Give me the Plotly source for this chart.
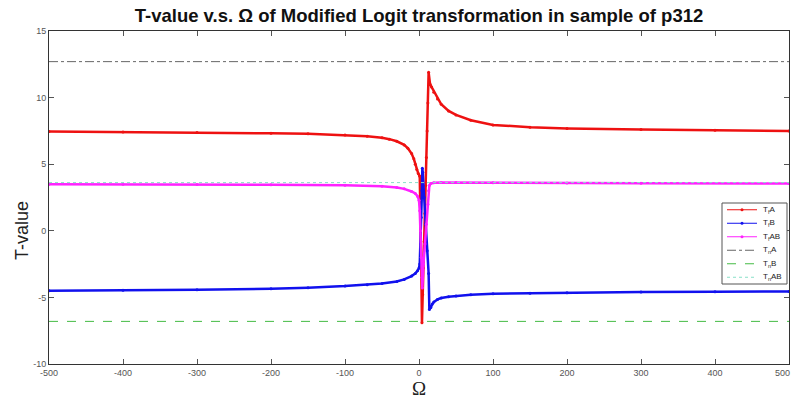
import plotly.graph_objects as go

# ---- data ----
omega_fA = [-500, -400, -300, -200, -150, -100, -70, -50, -40, -30, -20, -15, -10, -7, -5, -3, -1, 1,
            2, 3, 4, 5, 6, 7, 8, 9, 10, 11, 12, 13, 15, 17, 20, 25, 30, 40, 50, 70, 100, 150, 200, 300, 400, 500]
t_fA = [7.45, 7.42, 7.38, 7.32, 7.28, 7.2, 7.1, 6.98, 6.88, 6.72, 6.45, 6.2, 5.8, 5.4, 5.0, 4.6, 4.3, 4.1,
        1.5, -2.5, -6.9, -4.8, -2.8, -0.8, 1.3, 3.4, 5.5, 7.5, 9.6, 11.9, 11.0, 10.8, 10.4, 9.9, 9.5, 9.0, 8.7, 8.3, 7.95, 7.78, 7.68, 7.6, 7.55, 7.5]

omega_fB = [-500, -400, -300, -200, -150, -100, -70, -50, -30, -20, -10, -5, -2, 0, 1, 2, 3, 4, 4.5,
            5, 7, 9, 11, 13, 14, 16, 18, 20, 25, 30, 40, 50, 70, 100, 150, 200, 300, 400, 500]
t_fB = [-4.5, -4.47, -4.43, -4.35, -4.28, -4.15, -4.05, -3.95, -3.8, -3.65, -3.4, -3.2, -3.0, -2.8, -2.5, -1.0, 1.0, 3.0, 4.7,
        4.4, 2.5, 0.5, -1.5, -3.2, -5.9, -5.75, -5.5, -5.35, -5.15, -5.05, -4.95, -4.9, -4.8, -4.72, -4.68, -4.65, -4.6, -4.58, -4.55]

omega_fAB = [-500, -400, -300, -200, -100, -50, -30, -20, -10, -5, -2, 0, 1, 2, 3, 4, 4.5,
             6, 8, 10, 12, 13, 14, 16, 20, 30, 50, 100, 200, 300, 500]
t_fAB = [3.5, 3.5, 3.48, 3.46, 3.42, 3.35, 3.25, 3.15, 2.95, 2.8, 2.6, 2.3, 1.5, 0.0, -2.0, -3.5, -4.3,
         -2.5, -1.0, 0.5, 2.0, 3.0, 3.4, 3.55, 3.6, 3.62, 3.62, 3.6, 3.58, 3.57, 3.55]

omega_n = [-500, 500]
t_nA = [12.7, 12.7]
t_nB = [-6.8, -6.8]
t_nAB = [3.62, 3.62]

x_ticks = [-500, -400, -300, -200, -100, 0, 100, 200, 300, 400, 500]
x_ticktext = ["-500", "-400", "-300", "-200", "-100", "0", "100", "200", "300", "400", "500"]
y_ticks = [-10, -5, 0, 5, 10, 15]
y_ticktext = ["-10", "-5", "0", "5", "10", "15"]

legend_names = ["T<sub>f</sub>A", "T<sub>f</sub>B", "T<sub>f</sub>AB", "T<sub>n</sub>A", "T<sub>n</sub>B", "T<sub>n</sub>AB"]

# styles
RED, BLUE, MAG = "#ee1111", "#1111ee", "#ff22ff"
styles = [
    dict(color=RED, width=2.5, dash="solid", marker=True),
    dict(color=BLUE, width=2.5, dash="solid", marker=True),
    dict(color=MAG, width=2.5, dash="solid", marker=True),
    dict(color="#666666", width=1, dash="dashdot", marker=False),
    dict(color="#44bb44", width=1, dash="dash", marker=False),
    dict(color="#88e0c8", width=1, dash="dot", marker=False),
]

fig = go.Figure()
series = [(omega_fA, t_fA), (omega_fB, t_fB), (omega_fAB, t_fAB),
          (omega_n, t_nA), (omega_n, t_nB), (omega_n, t_nAB)]
for (xs, ys), st, nm in zip(series, styles, legend_names):
    fig.add_trace(go.Scatter(
        x=xs, y=ys, name=nm, showlegend=False,
        mode="lines+markers" if st["marker"] else "lines",
        line=dict(color=st["color"], width=st["width"], dash=st["dash"]),
        marker=dict(size=3, color=st["color"])))

# ---- custom legend (pixel layout converted to paper coords) ----
L, R, T, B = 49, 789, 31, 364
def px(xp):
    return (xp - L) / (R - L)
def py(yp):
    return (B - yp) / (B - T)

shapes = []
annotations = []
box_l, box_r, box_t, box_b = 722, 787, 203, 284
shapes.append(dict(type="rect", xref="paper", yref="paper", x0=px(box_l), x1=px(box_r),
                   y0=py(box_b), y1=py(box_t), line=dict(color="#555555", width=1), fillcolor="white",
                   layer="above"))
row_h = (box_b - box_t) / 6
for i, (nm, st) in enumerate(zip(legend_names, styles)):
    yc = box_t + row_h * (i + 0.5)
    shapes.append(dict(type="line", xref="paper", yref="paper", x0=px(727), x1=px(757), y0=py(yc), y1=py(yc),
                       line=dict(color=st["color"], width=1, dash=st["dash"]),
                       layer="above"))
    if st["marker"]:
        shapes.append(dict(type="circle", xref="paper", yref="paper", x0=px(740.5), x1=px(743.5),
                           y0=py(yc + 1.5), y1=py(yc - 1.5), line=dict(color=st["color"], width=0),
                           fillcolor=st["color"], layer="above"))
    annotations.append(dict(text=nm, xref="paper", yref="paper", x=px(761), y=py(yc), xanchor="left",
                            yanchor="middle", showarrow=False,
                            font=dict(family="Liberation Sans, Arial", size=8, color="#222222")))

# axis titles as annotations for exact placement
annotations.append(dict(text="T-value", xref="paper", yref="paper", x=px(22), y=py(231), textangle=-90,
                        xanchor="center", yanchor="middle", showarrow=False,
                        font=dict(family="Liberation Sans, Arial", size=18, color="#222222")))
annotations.append(dict(text="Ω", xref="paper", yref="paper", x=px(419), y=py(388), xanchor="center",
                        yanchor="middle", showarrow=False,
                        font=dict(family="Liberation Serif, Times New Roman", size=19, color="#222222")))
# last x tick label, kept inside the window at the right edge
annotations.append(dict(text=x_ticktext[-1], xref="x", yref="paper", x=x_ticks[-1], y=py(373),
                        xanchor="right", xshift=3, yanchor="middle", showarrow=False,
                        font=dict(family="Liberation Sans Narrow, Arial Narrow, Liberation Sans, Arial", size=9, color="#555555")))

axis_common = dict(showgrid=False, zeroline=False, showline=True, linecolor="#333333", linewidth=1,
                   mirror="allticks", ticks="inside", ticklen=5, tickcolor="#555555",
                   tickfont=dict(family="Liberation Sans Narrow, Arial Narrow, Liberation Sans, Arial", size=9, color="#555555"))

fig.update_layout(
    width=793, height=400,
    margin=dict(l=L, r=793 - R, t=T, b=400 - B),
    paper_bgcolor="white", plot_bgcolor="white",
    title=dict(text="<b>T-value v.s. Ω of Modified Logit transformation in sample of p312</b>",
               x=(L + R) / 2 / 793, xanchor="center", y=1 - 16 / 400, yanchor="middle",
               font=dict(family="Liberation Sans, Arial", size=18.5, color="#111111")),
    xaxis=dict(range=[-500, 500], tickvals=x_ticks, ticktext=x_ticktext, **axis_common),
    yaxis=dict(range=[-10, 15], tickvals=y_ticks, ticktext=y_ticktext, **axis_common),
    showlegend=False,
    shapes=shapes,
    annotations=annotations,
)

fig.write_html("out.html")
